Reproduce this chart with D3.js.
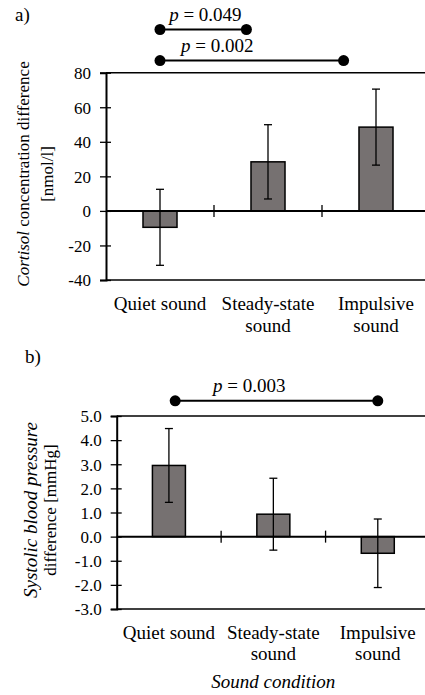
<!DOCTYPE html>
<html>
<head>
<meta charset="utf-8">
<script src="https://cdn.jsdelivr.net/npm/d3@7"></script>
<style>
  html, body { margin: 0; padding: 0; background: #fff; }
  svg text { font-family: "Liberation Serif", "Times New Roman", serif; fill: #000; }
</style>
</head>
<body>
<div id="chart"></div>
<script>
// categories (each entry = lines of the label)
const categories = [["Quiet sound"], ["Steady-state", "sound"], ["Impulsive", "sound"]];

// a) cortisol difference [nmol/l]
const cortisolMeans = [-9.5, 28.4, 48.5];
const cortisolErrors = [22, 21.5, 22];
const cortisolTicks = [-40, -20, 0, 20, 40, 60, 80];

// b) systolic blood pressure difference [mmHg]
const bpMeans = [2.95, 0.93, -0.69];
const bpErrors = [1.53, 1.49, 1.42];
const bpTicks = [-3, -2, -1, 0, 1, 2, 3, 4, 5];

// comparison brackets: ends in category positions (0 = first bar), level in data units
const cortisolPairs = [
  {from: 0, to: 0.8, level: 105, textAt: 0.42, p: "0.049"},
  {from: 0, to: 1.7, level: 87, textAt: 0.53, p: "0.002"}
];
const bpPairs = [
  {from: 0.06, to: 2.0, level: 5.63, textAt: 0.77, p: "0.003"}
];

const W = 425, H = 695;
const svg = d3.select("#chart").append("svg")
  .attr("width", W).attr("height", H);

function drawPanel(opt) {
  const g = svg.append("g");

  const x = d3.scaleBand()
    .domain(d3.range(categories.length))
    .range([opt.left, opt.right])
    .paddingInner(opt.pad)
    .paddingOuter(opt.pad / 2);

  const y = d3.scaleLinear()
    .domain(opt.domain)
    .range([opt.bottom, opt.top]);

  // centre of category i, also for fractional positions
  const cx = d3.scaleLinear()
    .domain([0, 1])
    .range([x(0) + x.bandwidth() / 2, x(1) + x.bandwidth() / 2]);

  // panel letter
  g.append("text")
    .attr("x", opt.letterX).attr("y", opt.letterY)
    .attr("font-size", 19)
    .text(opt.letter);

  // plot area frame (top + bottom, runs off to the right)
  g.append("line")
    .attr("x1", opt.left).attr("x2", opt.right + 20)
    .attr("y1", y(opt.domain[1])).attr("y2", y(opt.domain[1]))
    .attr("stroke", "#000").attr("stroke-width", 1.5);
  g.append("line")
    .attr("x1", opt.left).attr("x2", opt.right + 20)
    .attr("y1", y(opt.domain[0])).attr("y2", y(opt.domain[0]))
    .attr("stroke", "#000").attr("stroke-width", 1.5);

  // y axis (hyphen instead of unicode minus, like the original)
  const yAxis = g.append("g")
    .attr("transform", `translate(${opt.left},0)`)
    .attr("font-family", "Liberation Serif, Times New Roman, serif")
    .call(d3.axisLeft(y).tickValues(opt.ticks).tickSize(6).tickPadding(9)
      .tickFormat(d => opt.fmt(d).replace("\u2212", "-")));
  yAxis.select(".domain").attr("stroke-width", 2);
  yAxis.selectAll(".tick line").attr("x2", -6).attr("x1", 5).attr("stroke-width", 1.3);
  yAxis.selectAll(".tick text")
    .attr("font-size", 17)
    .attr("dy", "0.34em");

  // bars
  g.selectAll("rect.bar")
    .data(opt.means)
    .join("rect")
    .attr("class", "bar")
    .attr("x", (d, i) => x(i))
    .attr("width", x.bandwidth())
    .attr("y", d => y(Math.max(0, d)))
    .attr("height", d => Math.abs(y(d) - y(0)))
    .attr("fill", "#767171")
    .attr("stroke", "#000")
    .attr("stroke-width", 1.5);

  // zero line with category dividers
  g.append("line")
    .attr("x1", opt.left).attr("x2", opt.right + 20)
    .attr("y1", y(0)).attr("y2", y(0))
    .attr("stroke", "#000").attr("stroke-width", 2);
  g.selectAll("line.divider")
    .data(d3.range(1, categories.length))
    .join("line")
    .attr("class", "divider")
    .attr("x1", i => x(i) - x.step() * x.paddingInner() / 2)
    .attr("x2", i => x(i) - x.step() * x.paddingInner() / 2)
    .attr("y1", y(0) - 6).attr("y2", y(0) + 6)
    .attr("stroke", "#000").attr("stroke-width", 1.3);

  // error bars
  const eb = g.selectAll("g.err")
    .data(opt.means.map((m, i) => ({m: m, e: opt.errors[i], i: i})))
    .join("g").attr("class", "err");
  eb.append("line")
    .attr("x1", d => cx(d.i)).attr("x2", d => cx(d.i))
    .attr("y1", d => y(d.m + d.e)).attr("y2", d => y(d.m - d.e))
    .attr("stroke", "#000").attr("stroke-width", 1.3);
  [1, -1].forEach(s => {
    eb.append("line")
      .attr("x1", d => cx(d.i) - 4).attr("x2", d => cx(d.i) + 4)
      .attr("y1", d => y(d.m + s * d.e)).attr("y2", d => y(d.m + s * d.e))
      .attr("stroke", "#000").attr("stroke-width", 1.3);
  });

  // category labels
  const lab = g.selectAll("text.cat")
    .data(categories)
    .join("text")
    .attr("class", "cat")
    .attr("text-anchor", "middle")
    .attr("font-size", 19)
    .attr("y", opt.labelY);
  lab.selectAll("tspan")
    .data((d, i) => d.map(t => ({t: t, i: i})))
    .join("tspan")
    .attr("x", d => cx(d.i))
    .attr("dy", (d, j) => j === 0 ? 0 : 21.5)
    .text(d => d.t);

  // y title, rotated; local y of each line = distance from the left edge
  const yt = g.append("text")
    .attr("text-anchor", "middle")
    .attr("transform", `translate(0,${opt.yTitleY}) rotate(-90)`);
  opt.yTitle.forEach((line, j) => {
    const t = yt.append("tspan").attr("x", 0).attr("y", opt.yTitleX[j])
      .attr("font-size", opt.yTitleSize[j]);
    line.forEach(part => {
      t.append("tspan")
        .attr("font-style", part.italic ? "italic" : null)
        .text(part.t);
    });
  });

  // significance brackets
  const br = g.selectAll("g.pair")
    .data(opt.pairs)
    .join("g").attr("class", "pair");
  br.append("line")
    .attr("x1", d => cx(d.from)).attr("x2", d => cx(d.to))
    .attr("y1", d => y(d.level)).attr("y2", d => y(d.level))
    .attr("stroke", "#000").attr("stroke-width", 2);
  br.append("circle")
    .attr("cx", d => cx(d.from)).attr("cy", d => y(d.level)).attr("r", 5.5);
  br.append("circle")
    .attr("cx", d => cx(d.to)).attr("cy", d => y(d.level)).attr("r", 5.5);
  const pt = br.append("text")
    .attr("text-anchor", "middle")
    .attr("font-size", 19)
    .attr("x", d => cx(d.textAt))
    .attr("y", d => y(d.level) - 9);
  pt.append("tspan").attr("font-style", "italic").text("p");
  pt.append("tspan").text(d => " = " + d.p);

  if (opt.xTitle) {
    g.append("text")
      .attr("text-anchor", "middle")
      .attr("font-size", 19)
      .attr("font-style", "italic")
      .attr("x", (opt.left + opt.right) / 2)
      .attr("y", opt.xTitleY)
      .text(opt.xTitle);
  }
}

drawPanel({
  letter: "a)", letterX: 15, letterY: 21,
  left: 106, right: 430, top: 72.7, bottom: 280, pad: 0.685,
  domain: [-40, 80], ticks: cortisolTicks, fmt: d3.format("d"),
  means: cortisolMeans, errors: cortisolErrors, pairs: cortisolPairs,
  labelY: 310,
  yTitle: [[{t: "Cortisol", italic: true}, {t: " concentration difference"}], [{t: "[nmol/l]"}]],
  yTitleX: [29, 53], yTitleSize: [17, 17], yTitleY: 174
});

drawPanel({
  letter: "b)", letterX: 25, letterY: 363,
  left: 116.7, right: 430, top: 416, bottom: 609, pad: 0.684,
  domain: [-3, 5], ticks: bpTicks, fmt: d3.format(".1f"),
  means: bpMeans, errors: bpErrors, pairs: bpPairs,
  labelY: 638.5,
  yTitle: [[{t: "Systolic blood pressure", italic: true}], [{t: "difference [mmHg]"}]],
  yTitleX: [37, 56], yTitleSize: [19, 17], yTitleY: 510,
  xTitle: "Sound condition", xTitleY: 688
});
</script>
</body>
</html>
